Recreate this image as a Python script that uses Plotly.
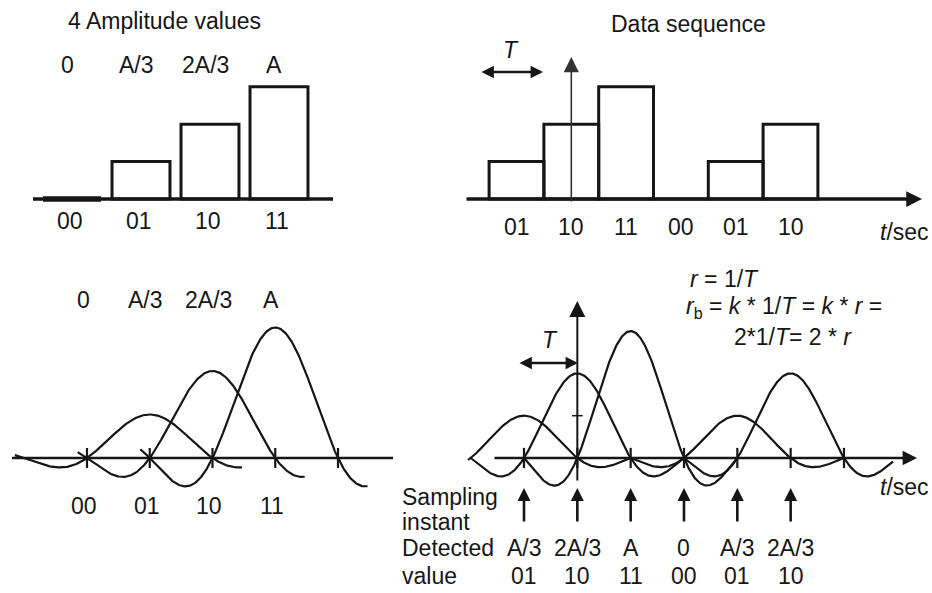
import numpy as np
import plotly.graph_objects as go

# ---------------- data ----------------
amp_labels = ["0", "A/3", "2A/3", "A"]
amp_codes = ["00", "01", "10", "11"]
amp_levels = [0, 1, 2, 3]            # in units of A/3

seq_codes = ["01", "10", "11", "00", "01", "10"]
seq_levels = [1, 2, 3, 0, 1, 2]      # in units of A/3
seq_labels = ["A/3", "2A/3", "A", "0", "A/3", "2A/3"]

title_left = "4 Amplitude values"
title_right = "Data sequence"
axis_label = "<i>t</i>/sec"
period_label = "<i>T</i>"
formula_lines = [
    "<i>r</i> = 1/<i>T</i>",
    "<i>r</i><sub>b</sub> = <i>k</i> * 1/<i>T</i> = <i>k</i> * <i>r</i> =",
    "2*1/<i>T</i>= 2 * <i>r</i>",
]
row_titles = ["Sampling", "instant", "Detected", "value"]

# ---------------- layout helpers ----------------
W, H = 932, 593
INK = "#161616"
FONT = "Liberation Sans, Arial, sans-serif"
FS = 23

fig = go.Figure()


class Panel:
    def __init__(self, n, px0, px1, py0, py1, xa, xb, yc, yd):
        self.xa, self.xb, self.yc, self.yd = xa, xb, yc, yd
        sfx = "" if n == 1 else str(n)
        self.xr, self.yr = "x" + sfx, "y" + sfx
        common = dict(visible=False, fixedrange=True, showgrid=False, zeroline=False)
        fig.layout["xaxis" + sfx] = dict(domain=[px0 / W, px1 / W],
                                         range=[self.u(px0), self.u(px1)],
                                         anchor=self.yr, **common)
        fig.layout["yaxis" + sfx] = dict(domain=[1 - py1 / H, 1 - py0 / H],
                                         range=[self.v(py1), self.v(py0)],
                                         anchor=self.xr, **common)

    def u(self, px):
        return (px - self.xa) / self.xb

    def v(self, py):
        return (self.yc - py) / self.yd

    def line(self, x, y, width, color=INK):
        fig.add_trace(go.Scatter(x=x, y=y, mode="lines", xaxis=self.xr, yaxis=self.yr,
                                 line=dict(color=color, width=width), hoverinfo="skip"))

    def text(self, x, y, s, size=FS, xanchor="center", color=INK):
        fig.add_annotation(x=x, y=y, xref=self.xr, yref=self.yr, text=s, showarrow=False,
                           xanchor=xanchor, yanchor="middle",
                           font=dict(family=FONT, size=size, color=color))

    def arrow(self, x0, y0, x1, y1, width, size, both=False, color=INK):
        fig.add_annotation(x=x1, y=y1, ax=x0, ay=y0, xref=self.xr, yref=self.yr,
                           axref=self.xr, ayref=self.yr, text="", showarrow=True,
                           arrowhead=2, startarrowhead=2, arrowsize=size, startarrowsize=size,
                           arrowwidth=width, arrowcolor=color, standoff=0, startstandoff=0,
                           arrowside="end+start" if both else "end")


# ---------------- panel 1 : four amplitude values ----------------
p1 = Panel(1, 0, 430, 0, 262, 72, 69, 199, 37.4)
fig.add_trace(go.Bar(x=list(range(len(amp_levels))), y=amp_levels, width=0.84,
                     xaxis=p1.xr, yaxis=p1.yr, hoverinfo="skip",
                     marker=dict(color="white", line=dict(color=INK, width=3))))
p1.line([p1.u(33), p1.u(333)], [0, 0], 3.5)
for i, lev in enumerate(amp_levels):
    if lev == 0:
        p1.line([i - 0.42, i + 0.42], [0, 0], 5.5)
p1.text(p1.u(164), p1.v(21), title_left)
for i, (lab, code) in enumerate(zip(amp_labels, amp_codes)):
    p1.text(i - 0.07, p1.v(65), lab)
    p1.text(i - 0.03, p1.v(221), code)

# ---------------- panel 2 : data sequence ----------------
p2 = Panel(2, 440, 932, 0, 262, 516.5, 54.8, 199, 37.4)
fig.add_trace(go.Bar(x=list(range(len(seq_levels))), y=seq_levels, width=1.0,
                     xaxis=p2.xr, yaxis=p2.yr, hoverinfo="skip",
                     marker=dict(color="rgba(0,0,0,0)", line=dict(color=INK, width=3))))
p2.arrow(p2.u(465), 0, p2.u(922), 0, 3.5, 0.9)
p2.arrow(1, p2.v(203), 1, p2.v(57), 1.6, 1.9, color="#333333")
p2.arrow(p2.u(480), p2.v(72), p2.u(543), p2.v(72), 2.6, 0.95, both=True)
p2.text(p2.u(511), p2.v(50), period_label)
p2.text(p2.u(688), p2.v(24), title_right)
for i, code in enumerate(seq_codes):
    p2.text(i, p2.v(227), code)
p2.text(p2.u(931), p2.v(232), axis_label, size=FS, xanchor="right")

# ---------------- panel 3 : amplitude pulses ----------------
p3 = Panel(3, 0, 396, 265, 593, 87, 62.75, 458, 43.5)
p3.line([p3.u(12), p3.u(393)], [0, 0], 2.4)
tx, ty = [], []
for k in range(len(amp_levels) + 1):
    tx += [k, k, None]
    ty += [-0.23, 0.23, None]
p3.line(tx, ty, 2.2)
for i, lev in enumerate(amp_levels):
    if lev:
        t = np.linspace(i - 2.15, i + 1.47, 300)
        p3.line(t, lev * np.sinc(t - i), 2.2)
for i, (lab, code) in enumerate(zip(amp_labels, amp_codes)):
    p3.text(i - 0.06, p3.v(300), lab)
    p3.text(i - 0.05, p3.v(506), code)

# ---------------- panel 4 : pulse train ----------------
p4 = Panel(4, 398, 932, 265, 593, 524, 53.33, 458, 42.3)
p4.arrow(p4.u(493), 0, p4.u(917), 0, 2.4, 1.2)
tx, ty = [], []
for k in range(len(seq_levels) + 1):
    tx += [k, k, None]
    ty += [-0.24, 0.24, None]
p4.line(tx, ty, 2.2)
t_lo, t_hi = p4.u(468), p4.u(893)
for i, lev in enumerate(seq_levels):
    if lev:
        t = np.linspace(max(i - 2, t_lo), min(i + 2, t_hi), 300)
        p4.line(t, lev * np.sinc(t - i), 2.2)
p4.arrow(1, p4.v(482), 1, p4.v(301), 2.0, 1.6)
p4.line([0.9, 1.1], [1, 1], 1.5)
p4.arrow(p4.u(518), p4.v(363), p4.u(578), p4.v(363), 2.6, 0.95, both=True)
p4.text(p4.u(550), p4.v(340), period_label)
p4.text(p4.u(931), p4.v(487), axis_label, size=FS, xanchor="right")
for i, (lab, code) in enumerate(zip(seq_labels, seq_codes)):
    p4.arrow(i, p4.v(523), i, p4.v(488), 2.6, 1.0)
    p4.text(i, p4.v(548), lab)
    p4.text(i, p4.v(576), code)
for s, py in zip(row_titles, [497, 522, 548, 576]):
    p4.text(p4.u(400), p4.v(py), s, xanchor="left")
p4.text(p4.u(688), p4.v(279), formula_lines[0], xanchor="left")
p4.text(p4.u(684), p4.v(308), formula_lines[1], xanchor="left")
p4.text(p4.u(732), p4.v(337), formula_lines[2], xanchor="left")

fig.update_layout(width=W, height=H, margin=dict(l=0, r=0, t=0, b=0),
                  paper_bgcolor="white", plot_bgcolor="white", showlegend=False,
                  barmode="overlay")
fig.write_html("out.html", config={"displayModeBar": False, "staticPlot": True},
               post_script="document.body.style.margin='0';document.body.style.overflow='hidden';")
